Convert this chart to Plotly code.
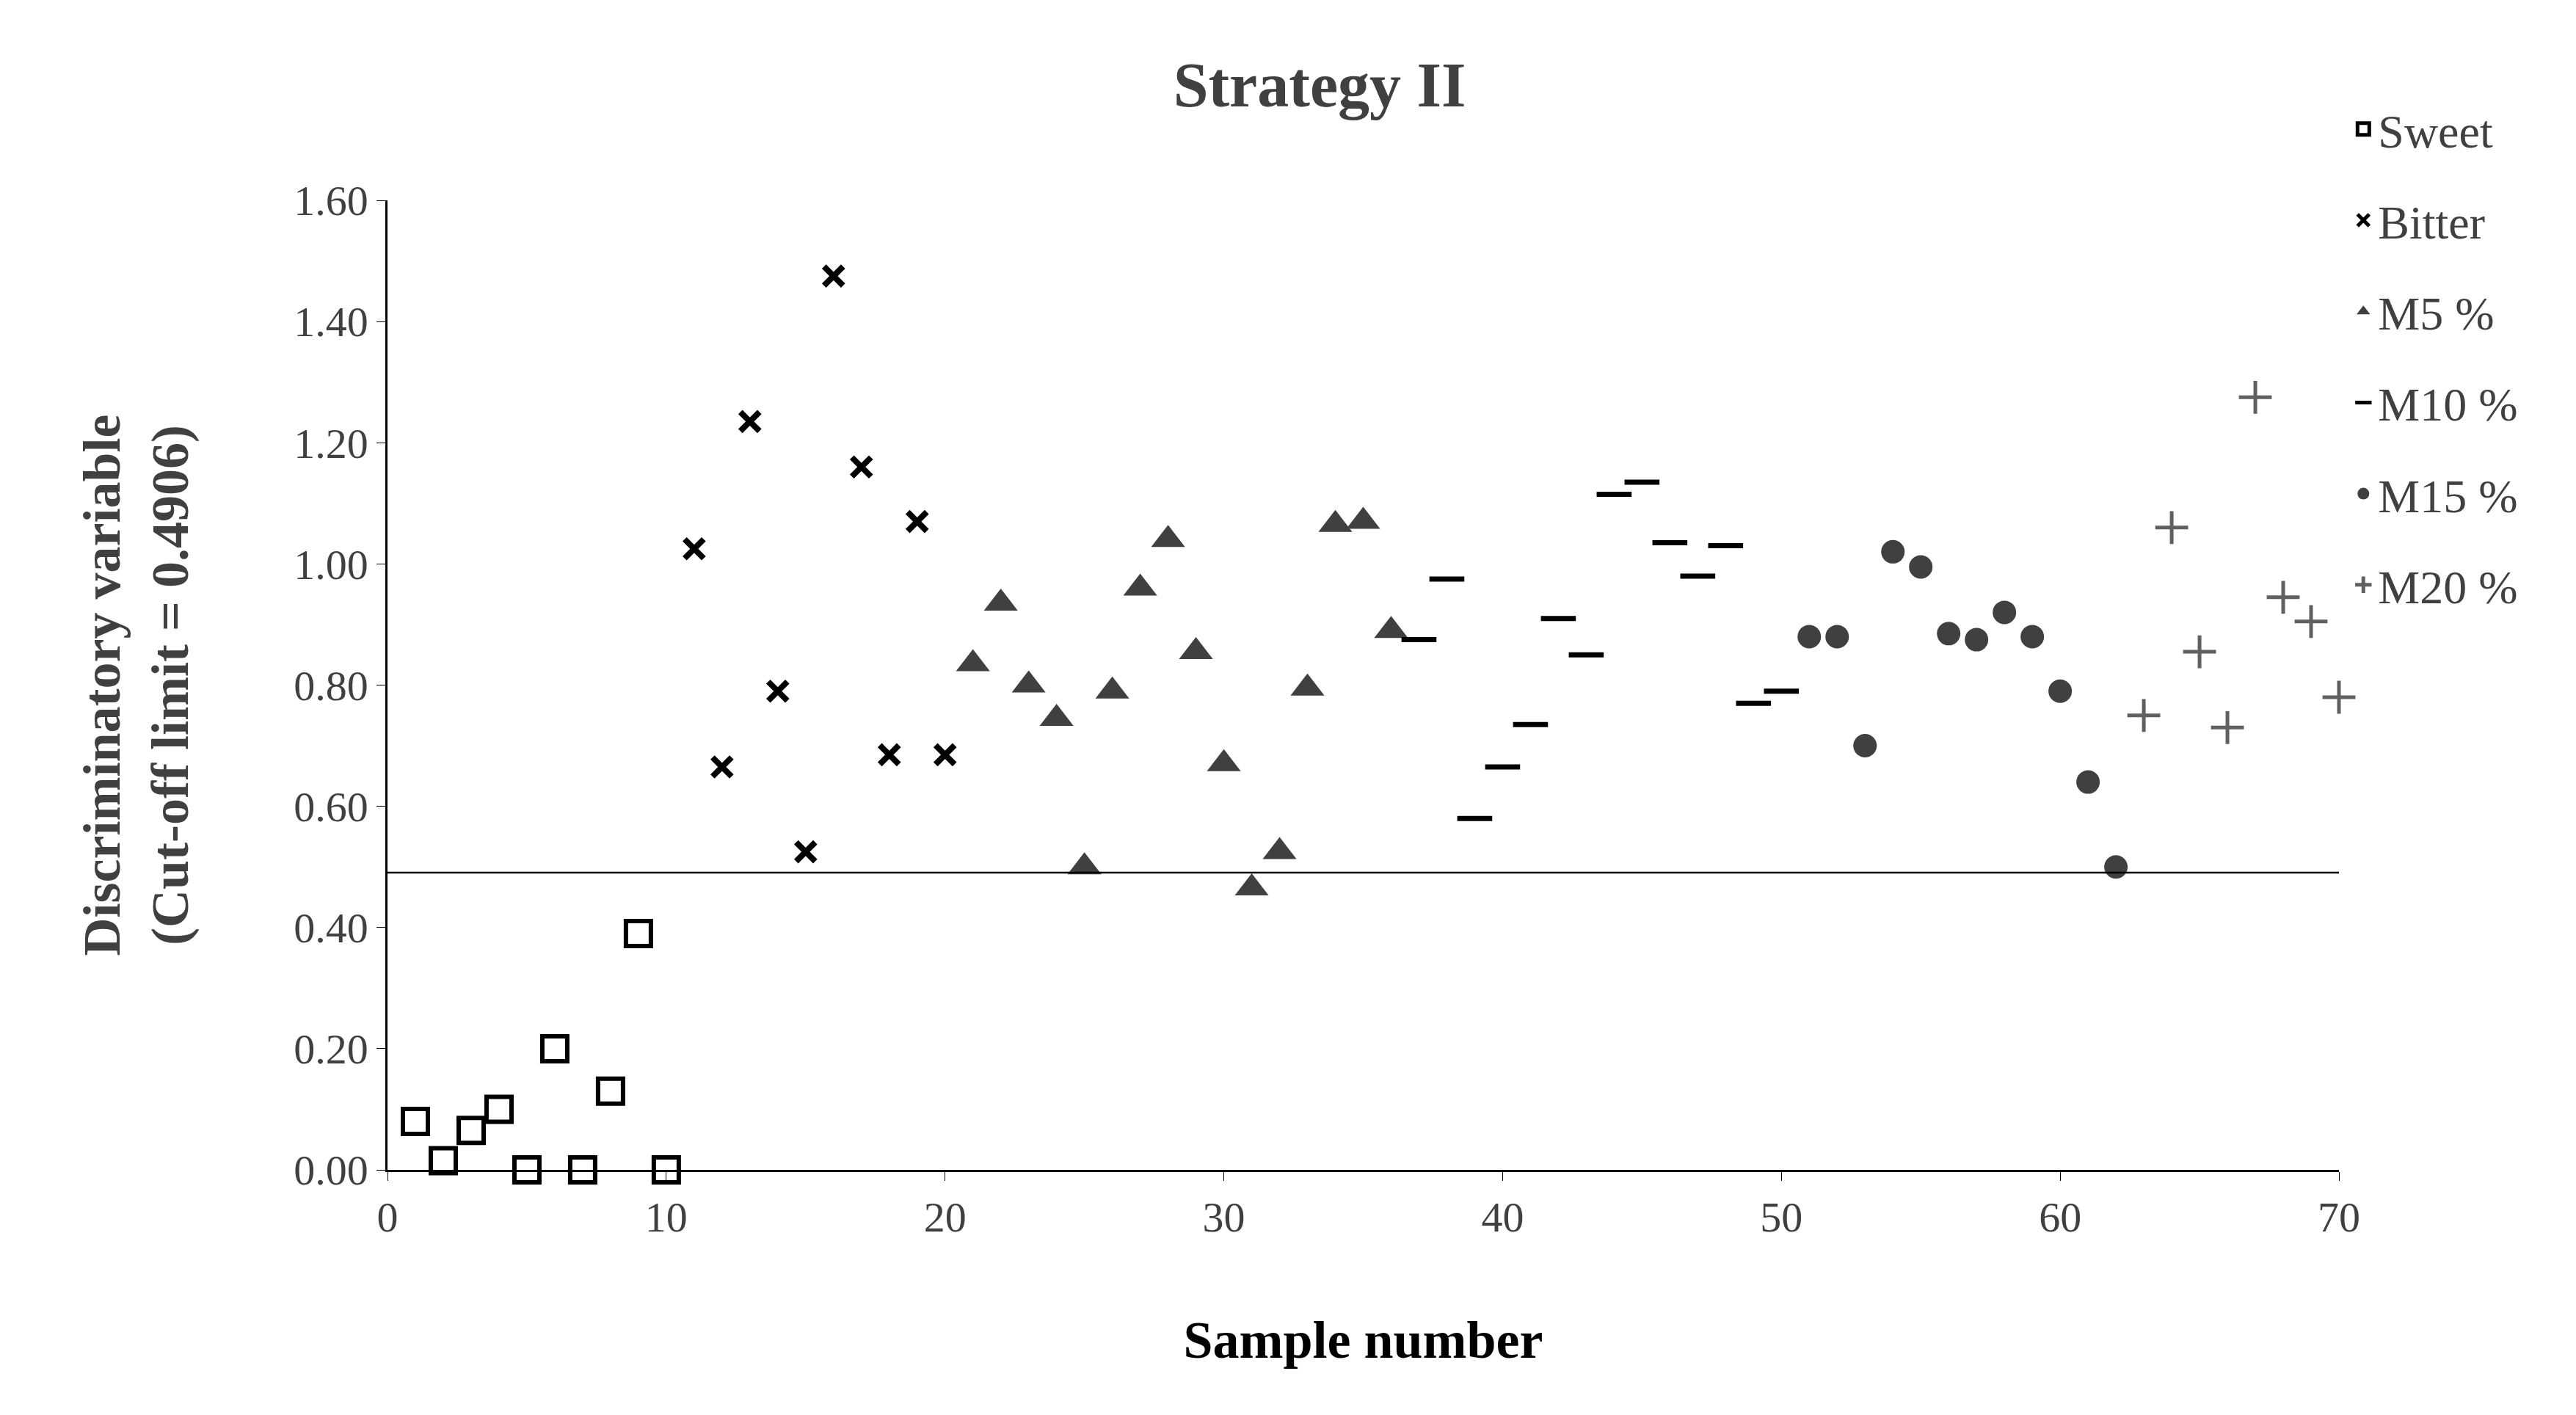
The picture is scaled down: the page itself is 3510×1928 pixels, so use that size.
import plotly.graph_objects as go

sweet_x = list(range(1, 11))
sweet_y = [0.08, 0.015, 0.065, 0.10, 0.0, 0.20, 0.0, 0.13, 0.39, 0.0]
bitter_x = list(range(11, 21))
bitter_y = [1.025, 0.665, 1.235, 0.79, 0.525, 1.475, 1.16, 0.685, 1.07, 0.685]
m5_x = list(range(21, 37))
m5_y = [0.835, 0.935, 0.80, 0.745, 0.50, 0.79, 0.96, 1.04, 0.855, 0.67, 0.465, 0.525, 0.795, 1.065, 1.07, 0.89]
m10_x = list(range(37, 51))
m10_y = [0.875, 0.975, 0.58, 0.665, 0.735, 0.91, 0.85, 1.115, 1.135, 1.035, 0.98, 1.03, 0.77, 0.79]
m15_x = list(range(51, 63))
m15_y = [0.88, 0.88, 0.70, 1.02, 0.995, 0.885, 0.875, 0.92, 0.88, 0.79, 0.64, 0.50]
m20_x = list(range(63, 71))
m20_y = [0.75, 1.06, 0.855, 0.73, 1.275, 0.945, 0.905, 0.78]
cutoff = 0.4906

FONT = "Liberation Serif"
dark = "#404040"
fig = go.Figure()
specs = [
    ("Sweet", sweet_x, sweet_y, dict(symbol="square-open", size=34, color="black", line=dict(width=6, color="black"))),
    ("Bitter", bitter_x, bitter_y, dict(symbol="x-thin-open", size=26, color="black", line=dict(width=8, color="black"))),
    ("M5 %", m5_x, m5_y, dict(symbol="triangle-up", size=40, color=dark)),
    ("M10 %", m10_x, m10_y, dict(symbol="line-ew-open", size=34, color="black", line=dict(width=7, color="black"))),
    ("M15 %", m15_x, m15_y, dict(symbol="circle", size=32, color=dark)),
    ("M20 %", m20_x, m20_y, dict(symbol="cross-thin-open", size=32, color="#606060", line=dict(width=5, color="#606060"))),
]
for i, (n, x, y, m) in enumerate(specs):
    fig.add_trace(go.Scatter(x=x, y=y, mode="markers", name=n, marker=m, legendgroup=str(i), cliponaxis=False))

fig.add_trace(go.Scatter(x=[0, 70], y=[cutoff, cutoff], mode="lines", line=dict(color="black", width=2.5),
                         showlegend=False, hoverinfo="skip"))

fig.update_layout(
    width=3510, height=1928, plot_bgcolor="white", paper_bgcolor="white",
    margin=dict(l=520, r=331, t=265, b=342),
    font=dict(family=FONT, size=58, color=dark),
    title=dict(text="<b>Strategy II</b>", x=0.51, xanchor="center", y=0.96, yanchor="top",
               font=dict(family=FONT, size=86, color=dark)),
    legend=dict(x=1.005, xanchor="left", y=1.11, yanchor="top", font=dict(family=FONT, size=64, color=dark),
                tracegroupgap=38, traceorder="grouped", itemwidth=30),
    xaxis=dict(range=[0, 70], dtick=10, showline=True, linecolor="black", linewidth=2.5,
               ticks="outside", ticklen=12, tickcolor="black", showgrid=False, zeroline=False,
               title=dict(text="<b>Sample number</b>", standoff=110, font=dict(family=FONT, size=72, color="black"))),
    yaxis=dict(range=[0, 1.6], dtick=0.2, tickformat=".2f", showline=True, linecolor="black", linewidth=2.5,
               ticks="outside", ticklen=12, tickcolor="black", showgrid=False, zeroline=False,
               title=dict(text="<b>Discriminatory variable<br>(Cut-off limit = 0.4906)</b>", standoff=120,
                          font=dict(family=FONT, size=72, color=dark))),
)
fig.write_html("out.html")
